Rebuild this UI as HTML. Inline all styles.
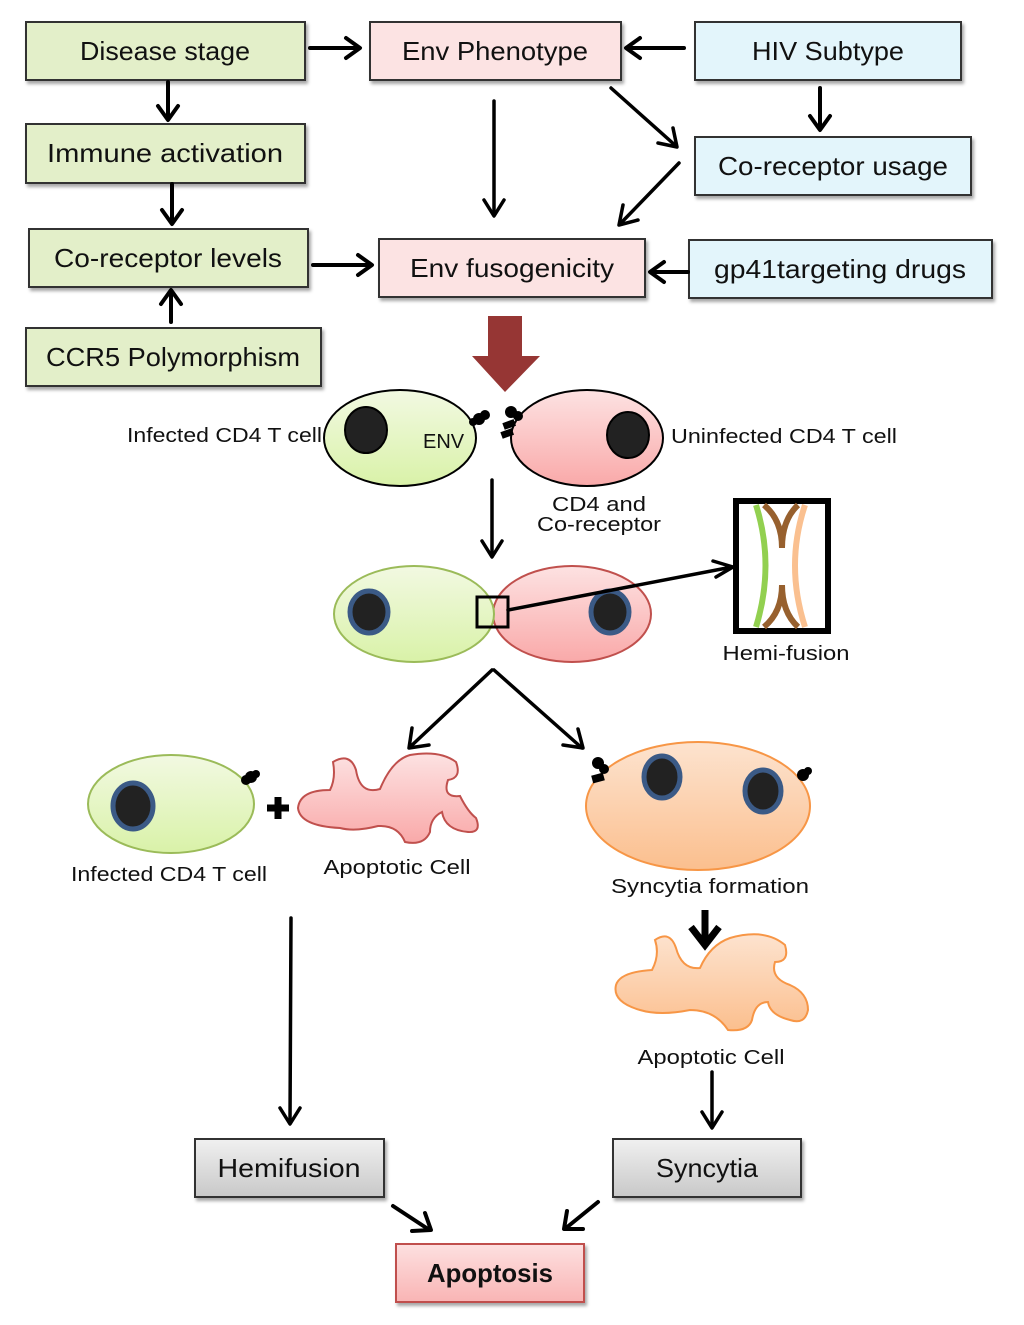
<!DOCTYPE html>
<html><head><meta charset="utf-8"><style>
html,body{margin:0;padding:0;background:#fff}
svg{display:block}
text{font-family:"Liberation Sans",sans-serif;fill:#111}
</style></head><body>
<svg width="1024" height="1325" viewBox="0 0 1024 1325" xmlns="http://www.w3.org/2000/svg">
<defs>
<linearGradient id="gr" x1="0" y1="0" x2="0" y2="1"><stop offset="0" stop-color="#f0f0f0"/><stop offset="1" stop-color="#c8c8c8"/></linearGradient>
<linearGradient id="pk" x1="0" y1="0" x2="0" y2="1"><stop offset="0" stop-color="#fde0e0"/><stop offset="1" stop-color="#f9b4b4"/></linearGradient>
<linearGradient id="cg" x1="0" y1="0" x2="0" y2="1"><stop offset="0" stop-color="#f2f9e2"/><stop offset="1" stop-color="#d9f2a8"/></linearGradient>
<linearGradient id="cp" x1="0" y1="0" x2="0" y2="1"><stop offset="0" stop-color="#fde2e2"/><stop offset="1" stop-color="#f9a9a9"/></linearGradient>
<linearGradient id="co" x1="0" y1="0" x2="0" y2="1"><stop offset="0" stop-color="#fde3cf"/><stop offset="1" stop-color="#fbbf8e"/></linearGradient>
<filter id="sh" x="-5%" y="-5%" width="115%" height="125%"><feDropShadow dx="2" dy="3" stdDeviation="1.5" flood-color="#000" flood-opacity="0.35"/></filter>
</defs>

<g stroke="#333" stroke-width="2" filter="url(#sh)">
<rect x="26" y="22" width="279" height="58" fill="#e3efc9"/>
<rect x="26" y="124" width="279" height="59" fill="#e3efc9"/>
<rect x="29" y="229" width="279" height="58" fill="#e3efc9"/>
<rect x="26" y="328" width="295" height="58" fill="#e3efc9"/>
<rect x="370" y="22" width="251" height="58" fill="#fce3e3"/>
<rect x="379" y="239" width="266" height="58" fill="#fce3e3"/>
<rect x="695" y="22" width="266" height="58" fill="#e3f5fb"/>
<rect x="695" y="137" width="276" height="58" fill="#e3f5fb"/>
<rect x="689" y="240" width="303" height="58" fill="#e3f5fb"/>
<rect x="195" y="1139" width="189" height="58" fill="url(#gr)"/>
<rect x="613" y="1139" width="188" height="58" fill="url(#gr)"/>
<rect x="396" y="1244" width="188" height="58" fill="url(#pk)" stroke="#c0504d"/>
</g>

<g font-size="26" text-anchor="middle">
<text x="165" y="60" textLength="170" lengthAdjust="spacingAndGlyphs">Disease stage</text>
<text x="165" y="162" textLength="236" lengthAdjust="spacingAndGlyphs">Immune activation</text>
<text x="168" y="267" textLength="228" lengthAdjust="spacingAndGlyphs">Co-receptor levels</text>
<text x="173" y="366" textLength="254" lengthAdjust="spacingAndGlyphs">CCR5 Polymorphism</text>
<text x="495" y="60" textLength="186" lengthAdjust="spacingAndGlyphs">Env Phenotype</text>
<text x="512" y="277" textLength="204" lengthAdjust="spacingAndGlyphs">Env fusogenicity</text>
<text x="828" y="60" textLength="152" lengthAdjust="spacingAndGlyphs">HIV Subtype</text>
<text x="833" y="175" textLength="230" lengthAdjust="spacingAndGlyphs">Co-receptor usage</text>
<text x="840" y="278" textLength="252" lengthAdjust="spacingAndGlyphs">gp41targeting drugs</text>
<text x="289" y="1177" textLength="143" lengthAdjust="spacingAndGlyphs">Hemifusion</text>
<text x="707" y="1177" textLength="102" lengthAdjust="spacingAndGlyphs">Syncytia</text>
<text x="490" y="1282" font-weight="bold" textLength="126" lengthAdjust="spacingAndGlyphs">Apoptosis</text>
</g>

<g stroke="#000" stroke-width="4" fill="none" stroke-linecap="round" stroke-linejoin="round">
<line x1="310" y1="48" x2="358" y2="48"/><polyline points="346,38 360,48 346,58"/>
<line x1="684" y1="48" x2="628" y2="48"/><polyline points="640,38 626,48 640,58"/>
<line x1="168" y1="82" x2="168" y2="118"/><polyline points="158,106 168,120 178,106"/>
<line x1="172" y1="184" x2="172" y2="222"/><polyline points="162,210 172,224 182,210"/>
<line x1="171" y1="322" x2="171" y2="292"/><polyline points="161,304 171,290 181,304"/>
<line x1="313" y1="265" x2="370" y2="265"/><polyline points="358,255 372,265 358,275"/>
<line x1="688" y1="272" x2="652" y2="272"/><polyline points="664,262 650,272 664,282"/>
<line x1="820" y1="88" x2="820" y2="128"/><polyline points="810,116 820,130 830,116"/>
</g>
<g stroke="#000" stroke-width="3.5" fill="none" stroke-linecap="round" stroke-linejoin="round">
<line x1="494" y1="101" x2="494" y2="214"/><polyline points="484,200 494,216 504,200"/>
<line x1="611" y1="88" x2="676" y2="146"/><polyline points="658,143 677,147 673,128"/>
<line x1="679" y1="163" x2="620" y2="224"/><polyline points="623,205 619,225 638,220"/>
<line x1="492" y1="480" x2="492" y2="556"/><polyline points="482,541 492,557 502,541"/>
<line x1="492" y1="670" x2="410" y2="747"/><polyline points="412,728 409,748 429,745"/>
<line x1="494" y1="670" x2="582" y2="748"/><polyline points="563,745 583,748 578,729"/>
<line x1="291" y1="918" x2="290" y2="1123"/><polyline points="280,1108 290,1124 300,1108"/>
<line x1="712" y1="1072" x2="712" y2="1126"/><polyline points="702,1112 712,1128 722,1112"/>
</g>
<g stroke="#000" stroke-width="4" fill="none" stroke-linecap="round" stroke-linejoin="round">
<line x1="393" y1="1206" x2="428" y2="1229"/><polyline points="412,1231 431,1230 425,1213"/>
<line x1="598" y1="1202" x2="566" y2="1228"/><polyline points="567,1211 564,1229 583,1229"/>
</g>

<polygon points="488,316 522,316 522,356 540,356 505,392 472,356 488,356" fill="#963634"/>

<ellipse cx="400" cy="438" rx="76" ry="48" fill="url(#cg)" stroke="#000" stroke-width="2"/>
<ellipse cx="366" cy="430" rx="21" ry="23" fill="#222" stroke="#000" stroke-width="2"/>
<ellipse cx="587" cy="438" rx="76" ry="48" fill="url(#cp)" stroke="#000" stroke-width="2"/>
<ellipse cx="628" cy="435" rx="21" ry="23" fill="#222" stroke="#000" stroke-width="2"/>
<g fill="#000">
<circle cx="479" cy="419" r="6"/><circle cx="485" cy="415" r="5"/><circle cx="473" cy="422" r="4"/>
<circle cx="511" cy="412" r="6"/><circle cx="518" cy="416" r="5"/>
<rect x="503" y="421" width="12" height="7" transform="rotate(-20 509 424)"/>
<rect x="501" y="430" width="12" height="7" transform="rotate(-20 507 433)"/>
</g>
<text x="423" y="448" font-size="20">ENV</text>
<text x="127" y="442" font-size="20" textLength="195" lengthAdjust="spacingAndGlyphs">Infected CD4 T cell</text>
<text x="671" y="443" font-size="20" textLength="226" lengthAdjust="spacingAndGlyphs">Uninfected CD4 T cell</text>
<text x="599" y="511" font-size="20" text-anchor="middle" textLength="94" lengthAdjust="spacingAndGlyphs">CD4  and</text>
<text x="599" y="531" font-size="20" text-anchor="middle" textLength="124" lengthAdjust="spacingAndGlyphs">Co-receptor</text>

<ellipse cx="572" cy="614" rx="79" ry="48" fill="url(#cp)" stroke="#c0504d" stroke-width="2"/>
<ellipse cx="414" cy="614" rx="80" ry="48" fill="url(#cg)" stroke="#9bbb59" stroke-width="2"/>
<ellipse cx="369" cy="612" rx="19" ry="21" fill="#222" stroke="#3b5a86" stroke-width="5"/>
<ellipse cx="610" cy="612" rx="19" ry="21" fill="#222" stroke="#3b5a86" stroke-width="5"/>
<rect x="477" y="597" width="31" height="30" fill="none" stroke="#000" stroke-width="3"/>
<g stroke="#000" stroke-width="3.5" fill="none" stroke-linecap="round" stroke-linejoin="round">
<line x1="508" y1="610" x2="732" y2="567"/><polyline points="713,561 733,567 716,577"/>
</g>

<rect x="736" y="501" width="92" height="130" fill="#fff" stroke="#000" stroke-width="6"/>
<path d="M756,505 Q775,565 756,627" stroke="#92d050" stroke-width="6" fill="none"/>
<path d="M805,505 Q785,565 805,627" stroke="#fac090" stroke-width="6" fill="none"/>
<path d="M764,505 Q782,520 782,548 M782,548 Q782,520 798,505" stroke="#97602e" stroke-width="6" fill="none"/>
<path d="M764,627 Q782,612 782,585 M782,585 Q782,612 798,627" stroke="#97602e" stroke-width="6" fill="none"/>
<text x="786" y="660" font-size="20" text-anchor="middle" textLength="127" lengthAdjust="spacingAndGlyphs">Hemi-fusion</text>

<ellipse cx="171" cy="804" rx="83" ry="49" fill="url(#cg)" stroke="#9bbb59" stroke-width="2"/>
<ellipse cx="133" cy="806" rx="20" ry="23" fill="#222" stroke="#3b5a86" stroke-width="5"/>
<circle cx="251" cy="777" r="6" fill="#000"/><circle cx="246" cy="780" r="5" fill="#000"/><circle cx="256" cy="774" r="4" fill="#000"/>
<text x="169" y="881" font-size="20" text-anchor="middle" textLength="196" lengthAdjust="spacingAndGlyphs">Infected CD4 T cell</text>
<path d="M267,808 h22 M278,797 v22" stroke="#000" stroke-width="7"/>

<path d="M333,762 Q350,752 356,770 Q360,795 380,789 Q392,760 410,755 Q440,750 456,762 Q462,778 448,780 Q442,798 460,796 Q468,812 476,818 Q482,833 468,832 Q445,830 442,812 Q430,818 430,832 Q424,846 405,842 Q398,825 378,826 Q355,832 340,828 Q300,826 298,808 Q300,790 330,790 Q336,778 333,762 Z" fill="url(#cp)" stroke="#c0504d" stroke-width="2"/>
<text x="397" y="874" font-size="20" text-anchor="middle" textLength="147" lengthAdjust="spacingAndGlyphs">Apoptotic Cell</text>

<ellipse cx="698" cy="806" rx="112" ry="64" fill="url(#co)" stroke="#f79646" stroke-width="2"/>
<ellipse cx="662" cy="777" rx="18" ry="21" fill="#222" stroke="#3b5a86" stroke-width="5"/>
<ellipse cx="763" cy="791" rx="18" ry="21" fill="#222" stroke="#3b5a86" stroke-width="5"/>
<g fill="#000">
<circle cx="598" cy="763" r="6"/><circle cx="604" cy="769" r="5"/>
<rect x="592" y="774" width="12" height="8" transform="rotate(-15 598 778)"/>
<circle cx="803" cy="775" r="6"/><circle cx="808" cy="771" r="4"/>
</g>
<text x="710" y="893" font-size="20" text-anchor="middle" textLength="198" lengthAdjust="spacingAndGlyphs">Syncytia formation</text>

<path d="M655,940 Q670,930 676,948 Q682,970 700,968 Q710,945 730,938 Q765,928 785,945 Q790,962 775,962 Q770,978 790,985 Q808,993 808,1010 Q805,1025 790,1020 Q770,1015 768,1002 Q755,1002 752,1020 Q748,1032 728,1030 Q715,1010 690,1010 Q660,1016 640,1010 Q612,1002 616,985 Q620,972 652,970 Q660,955 655,940 Z" fill="url(#co)" stroke="#f79646" stroke-width="2"/>
<g stroke="#000" stroke-width="7" fill="none" stroke-linejoin="miter">
<line x1="705" y1="910" x2="705" y2="940"/><polyline points="691,927 705,945 719,927"/>
</g>
<text x="711" y="1064" font-size="20" text-anchor="middle" textLength="147" lengthAdjust="spacingAndGlyphs">Apoptotic Cell</text>
</svg>
</body></html>
